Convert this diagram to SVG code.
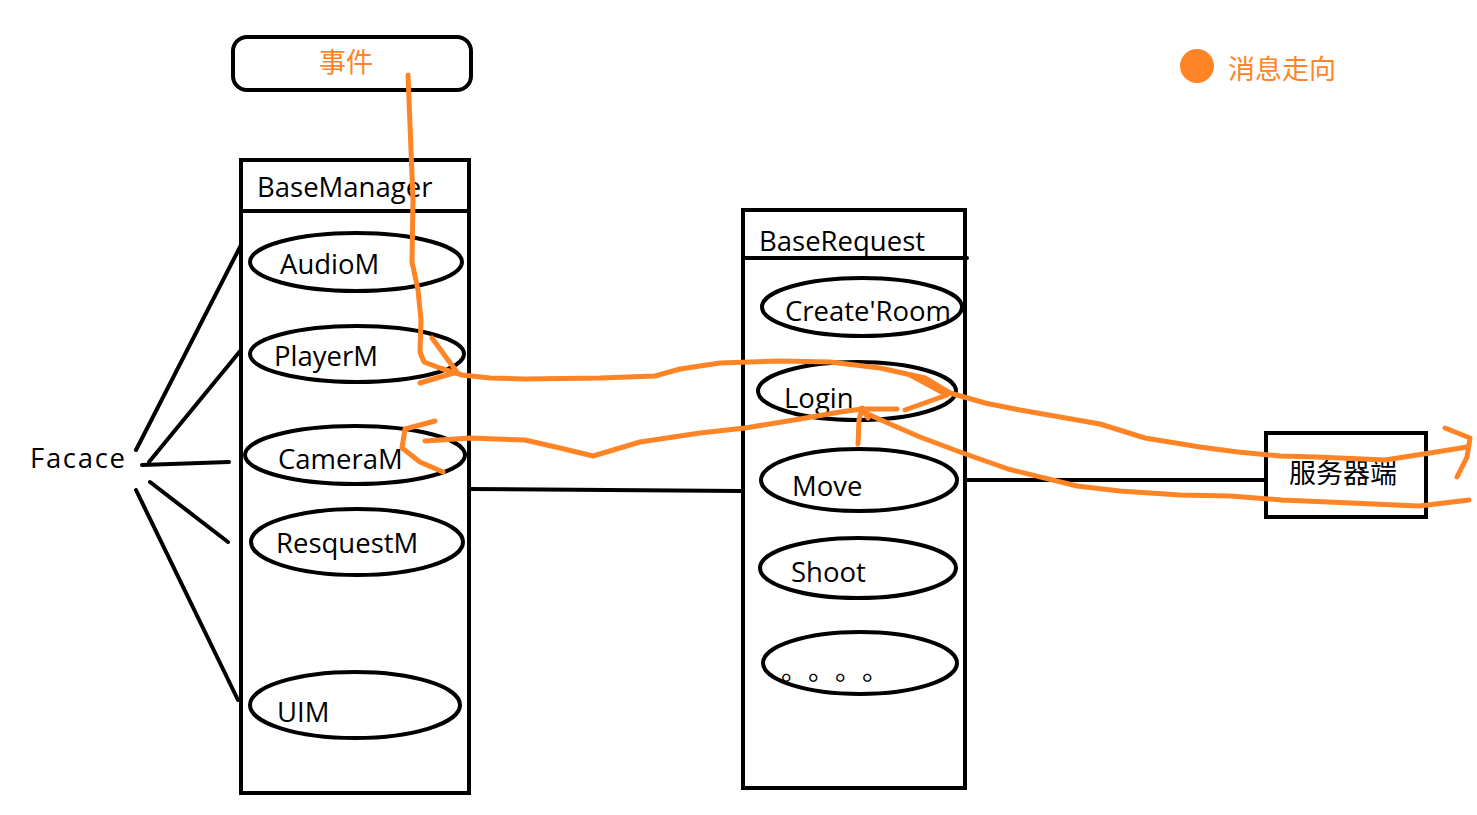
<svg xmlns="http://www.w3.org/2000/svg" width="1477" height="815" viewBox="0 0 1477 815">
<style>
.box{fill:none;stroke:#000;stroke-width:4}
.ell{fill:none;stroke:#000;stroke-width:4}
.ln{fill:none;stroke:#000;stroke-width:4;stroke-linecap:round}
.lbl{font-family:"Open Sans","Noto Sans",sans-serif;font-size:27.5px;fill:#000}
.cjk{font-family:"Noto Sans CJK SC",sans-serif;font-size:27px}
.or{fill:none;stroke:#FF8426;stroke-width:5;stroke-linecap:round;stroke-linejoin:round}
</style>
<rect width="1477" height="815" fill="#fff"/>
<g id="event">
<rect x="233" y="37" width="238" height="53" rx="14" class="box"/>
<text x="346" y="72" class="cjk" fill="#FF8426" text-anchor="middle">事件</text>
</g>
<g id="legend">
<circle cx="1197" cy="66" r="17" fill="#FF8426"/>
<text x="1228" y="79" class="cjk" fill="#FF8426">消息走向</text>
</g>
<g id="facace">
<text x="30" y="468" class="lbl" font-size="31" textLength="95" lengthAdjust="spacing">Facace</text>
</g>
<g id="basemanager">
<rect x="241" y="160" width="228" height="633" class="box"/>
<line x1="241" y1="211" x2="469" y2="211" class="ln"/>
<text x="257" y="197" class="lbl">BaseManager</text>
</g>
<g id="audiom"><ellipse cx="356" cy="262" rx="106" ry="29" class="ell"/><text x="280" y="274" class="lbl">AudioM</text></g>
<g id="playerm"><ellipse cx="357" cy="354" rx="107" ry="28" class="ell"/><text x="274" y="366" class="lbl">PlayerM</text></g>
<g id="cameram"><ellipse cx="355" cy="455" rx="110" ry="29" class="ell"/><text x="278" y="469" class="lbl">CameraM</text></g>
<g id="resquestm"><ellipse cx="357" cy="542" rx="106" ry="33" class="ell"/><text x="276" y="553" class="lbl">ResquestM</text></g>
<g id="uim"><ellipse cx="355" cy="705" rx="105" ry="33" class="ell"/><text x="277" y="722" class="lbl">UIM</text></g>
<g id="baserequest">
<rect x="743" y="210" width="222" height="578" class="box"/>
<line x1="743" y1="258" x2="967" y2="258" class="ln"/>
<text x="759" y="251" class="lbl">BaseRequest</text>
</g>
<g id="createroom"><ellipse cx="862" cy="307" rx="100" ry="29" class="ell"/><text x="785" y="321" class="lbl">Create'Room</text></g>
<g id="login"><ellipse cx="857" cy="391" rx="99" ry="29" class="ell"/><text x="784" y="408" class="lbl">Login</text></g>
<g id="move"><ellipse cx="859" cy="480" rx="98" ry="31" class="ell"/><text x="792" y="496" class="lbl">Move</text></g>
<g id="shoot"><ellipse cx="858" cy="568" rx="98" ry="30" class="ell"/><text x="791" y="582" class="lbl">Shoot</text></g>
<g id="more"><ellipse cx="860" cy="663" rx="97" ry="31" class="ell"/><text y="680" class="cjk" font-size="20" fill="#000"><tspan x="781">。</tspan><tspan x="808">。</tspan><tspan x="835">。</tspan><tspan x="862">。</tspan></text></g>
<g id="server">
<rect x="1266" y="433" width="160" height="84" class="box"/>
<text x="1289" y="483" class="cjk" fill="#000">服务器端</text>
</g>
<g id="connectors">
<path class="ln" d="M136 450 L241 245"/>
<path class="ln" d="M149 462 L241 350"/>
<path class="ln" d="M142 465 L229 462"/>
<path class="ln" d="M150 482 L228 542"/>
<path class="ln" d="M136 490 L238 700"/>
<path class="ln" d="M469 489 L742 491"/>
<path class="ln" d="M965 480 L1266 480"/>
</g>
<g id="flow">
<path class="or" d="M408 75 L409 100 L411 150 L413 200 L412 262 L418 290 L421 320 L420 352 L424 362 L440 368 L462 375 L490 378 L525 379 L600 378 L655 376 L680 369 L720 363 L780 361 L830 362 L880 368 L925 378 L950 393 L985 403 L1020 410 L1060 417 L1100 424 L1145 438 L1200 447 L1238 452 L1280 456 L1317 457 L1385 460 L1430 453 L1467 447"/>
<path class="or" d="M432 338 L448 360 L457 372 L420 383"/>
<path class="or" d="M910 375 L925 383 L947 395 L905 410"/>
<path class="or" d="M1445 428 L1470 438 L1467 457 L1457 477"/>
<path class="or" d="M1469 500 L1419 506 L1351 503 L1282 500 L1230 496 L1180 495 L1120 491 L1077 486 L1008 469 L960 452 L920 437 L890 424 L870 415 L862 410"/>
<path class="or" d="M897 409 L862 409 L840 412 L800 419 L745 428 L700 433 L640 442 L593 456 L560 448 L525 440 L470 438 L425 441"/>
<path class="or" d="M858 444 L859 420 L862 408 L868 418"/>
<path class="or" d="M435 421 L405 429 L402 448 L420 462 L443 472"/>
</g>
</svg>
